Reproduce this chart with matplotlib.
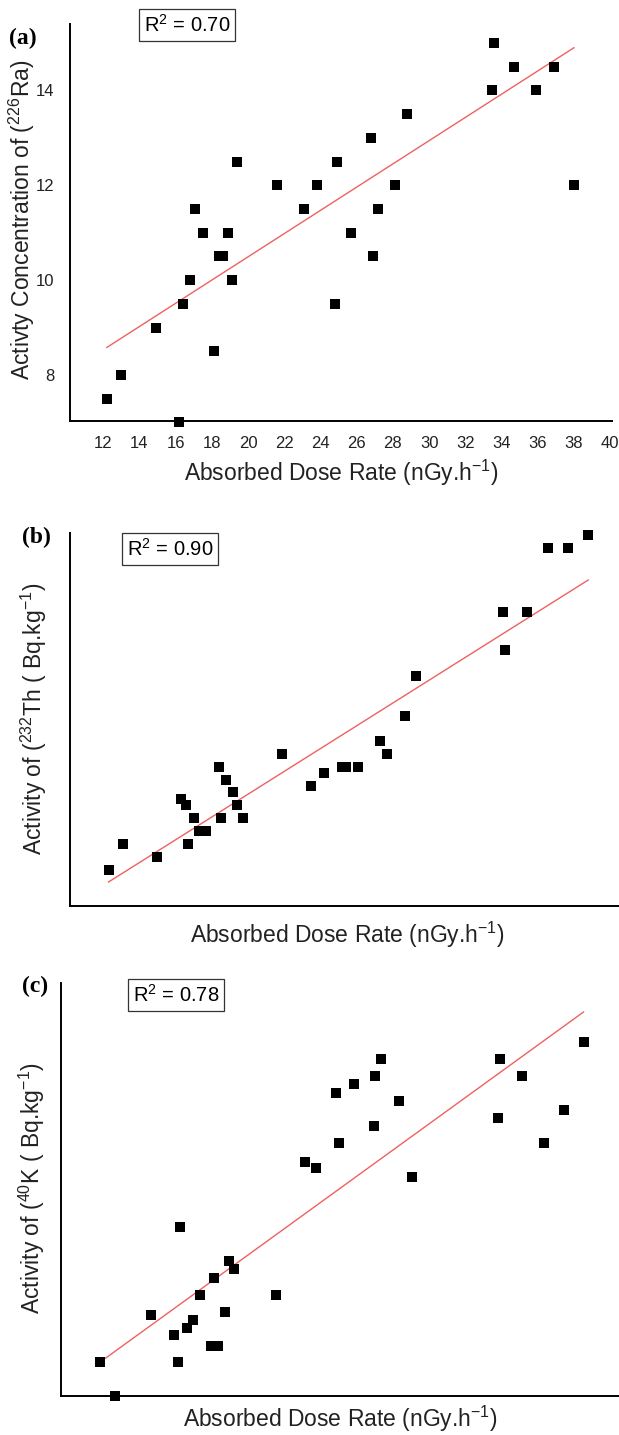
import matplotlib.pyplot as plt

plt.rcParams['font.family'] = ['Liberation Sans', 'DejaVu Sans']
plt.rcParams['mathtext.default'] = 'regular'

W, H = 619, 1435

# panel (a): 226Ra vs absorbed dose rate
dose_a = [12.2, 13.0, 14.9, 16.2, 16.4, 16.8, 17.1, 17.5, 18.1, 18.4, 18.6, 18.9, 19.1,
          19.4, 21.6, 23.1, 23.8, 24.8, 24.9, 25.7, 26.8, 26.9, 27.2, 28.1, 28.8,
          33.5, 33.6, 34.7, 35.9, 36.9, 38.0]
ra_a = [7.5, 8.0, 9.0, 7.0, 9.5, 10.0, 11.5, 11.0, 8.5, 10.5, 10.5, 11.0, 10.0,
        12.5, 12.0, 11.5, 12.0, 9.5, 12.5, 11.0, 13.0, 10.5, 11.5, 12.0, 13.5,
        14.0, 15.0, 14.5, 14.0, 14.5, 12.0]
fit_a_x = [12.2, 38.0]
fit_a_y = [8.58, 14.9]

# panel (b): 232Th vs absorbed dose rate (no y ticks in the source)
dose_b = [12.3, 13.1, 15.0, 16.3, 16.6, 16.7, 17.0, 17.3, 17.7, 18.4, 18.5, 18.8, 19.2,
          19.4, 19.7, 21.9, 23.5, 24.2, 25.2, 25.4, 26.1, 27.3, 27.7, 28.7, 29.3,
          34.1, 34.2, 35.4, 36.6, 37.7, 38.8]
th_b = [3.6, 6.2, 4.9, 10.7, 10.1, 6.2, 8.8, 7.5, 7.5, 13.9, 8.8, 12.6, 11.4,
        10.1, 8.8, 15.2, 12.0, 13.3, 13.9, 13.9, 13.9, 16.5, 15.2, 19.0, 23.0,
        29.4, 25.6, 29.4, 35.8, 35.8, 37.1]
fit_b_x = [12.3, 38.8]
fit_b_y = [2.4, 32.6]

# panel (c): 40K vs absorbed dose rate
dose_c = [12.2, 13.0, 15.0, 16.3, 16.5, 16.6, 17.0, 17.3, 17.7, 18.3, 18.5, 18.7, 19.1,
          19.3, 19.6, 21.9, 23.5, 24.1, 25.2, 25.4, 26.2, 27.3, 27.4, 27.7, 28.7,
          29.4, 34.2, 34.3, 35.5, 36.7, 37.8, 38.9]
k_c = [3.4, 0.0, 8.1, 6.1, 3.4, 16.9, 6.8, 7.6, 10.1, 5.0, 11.8, 5.0, 8.4,
       13.5, 12.7, 10.1, 23.4, 22.8, 30.3, 25.3, 31.2, 27.0, 32.0, 33.7, 29.5,
       21.9, 27.8, 33.7, 32.0, 25.3, 28.6, 35.4]
fit_c_x = [12.2, 38.9]
fit_c_y = [3.4, 38.4]

xlabel = 'Absorbed Dose Rate (nGy.h$^{-1}$)'


def fx(x):
    return x / W


def fy(y):
    return 1 - y / H


def panel(box, x, y, fit_x, fit_y, xlim, ylim):
    left, top, right, bottom = box
    ax = fig.add_axes([fx(left), fy(bottom), fx(right - left), (bottom - top) / H])
    ax.plot(fit_x, fit_y, color='#f06060', lw=1.0, zorder=2)
    ax.scatter(x, y, marker='s', s=52, color='black', linewidths=0, zorder=3,
               clip_on=False)
    ax.set_xlim(*xlim)
    ax.set_ylim(*ylim)
    for s in ['top', 'right']:
        ax.spines[s].set_visible(False)
    for s in ['left', 'bottom']:
        ax.spines[s].set_linewidth(1.4)
    ax.tick_params(length=0, labelsize=12, pad=11, labelcolor='#222222')
    return ax


fig = plt.figure(figsize=(W / 100, H / 100), dpi=100)

ax_a = panel((70, 24, 612, 421), dose_a, ra_a, fit_a_x, fit_a_y, (10.17, 40.1), (7.03, 15.4))
ax_a.set_xticks(range(12, 41, 2))
ax_a.set_yticks([8, 10, 12, 14])

ax_b = panel((70, 533, 619, 906), dose_b, th_b, fit_b_x, fit_b_y, (10.17, 40.5), (0, 37.3))
ax_b.set_xticks([])
ax_b.set_yticks([])

ax_c = panel((61, 983, 619, 1396), dose_c, k_c, fit_c_x, fit_c_y, (10.03, 40.86), (0, 41.3))
ax_c.set_xticks([])
ax_c.set_yticks([])

# axis labels
lab = dict(fontsize=16.5, ha='center', va='center', color='#222222')
fig.text(fx(341), fy(473), xlabel, **lab)
fig.text(fx(347), fy(935), xlabel, **lab)
fig.text(fx(340), fy(1419), xlabel, **lab)
fig.text(fx(22), fy(220), 'Activty Concentration of ($^{226}$Ra)', rotation=90, **lab)
fig.text(fx(34), fy(719), 'Activity of ($^{232}$Th ( Bq.kg$^{-1}$)', rotation=90, **lab)
fig.text(fx(32), fy(1188), 'Activity of ($^{40}$K ( Bq.kg$^{-1}$)', rotation=90, **lab)

# R^2 boxes
rbox = dict(boxstyle='square,pad=0.25', fc='white', ec='#333333', lw=0.9)
rk = dict(fontsize=14.5, ha='center', va='center', bbox=rbox)
fig.text(fx(187), fy(25), 'R$^2$ = 0.70', **rk)
fig.text(fx(170), fy(549), 'R$^2$ = 0.90', **rk)
fig.text(fx(176), fy(995), 'R$^2$ = 0.78', **rk)

# panel letters
let = dict(fontsize=17, fontweight='bold', family='Liberation Serif', ha='center', va='center')
fig.text(fx(23), fy(38), '(a)', **let)
fig.text(fx(36), fy(537), '(b)', **let)
fig.text(fx(35), fy(986), '(c)', **let)

fig.savefig('out.png', dpi=100)
